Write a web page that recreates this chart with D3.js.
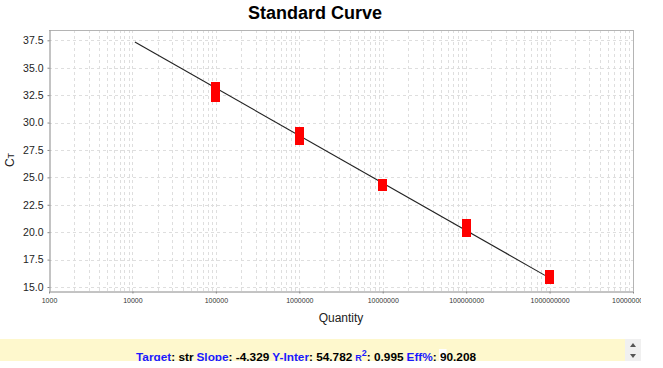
<meta charset="utf-8">
<script src="https://d3js.org/d3.v7.min.js"></script>
<body style="margin:0;background:#fff">
<div id="chart"></div>
<script>

// standard curve data
var quantities = [1e5, 1e6, 1e7, 1e8, 1e9]
var ctHigh = [33.20, 29.10, 24.37, 20.72, 16.08]
var ctLow = [32.32, 28.40, 24.21, 20.02, 15.74]
var xTicks = [1e3, 1e4, 1e5, 1e6, 1e7, 1e8, 1e9, 1e10]
var yTicks = [15, 17.5, 20, 22.5, 25, 27.5, 30, 32.5, 35, 37.5]
var fitRange = [10700, 8.8e8]
var slope = -4.329
var intercept = 54.782
var stats = [
  ["Target", "str"],
  ["Slope", "-4.329"],
  ["Y-Inter", "54.782"],
  ["R2", "0.995"],
  ["Eff%", "90.208"]
]

var width = 663
var height = 368
var pLeft = 49, pRight = 633, pTop = 30, pBottom = 291

var svg = d3.select("#chart")
  .append("svg")
    .attr("width", width)
    .attr("height", height)
    .style("font-family", "'Liberation Sans', Arial, sans-serif")

var defs = svg.append("defs")
defs.append("clipPath").attr("id", "panel")
  .append("rect").attr("x", 0).attr("y", 0).attr("width", 641).attr("height", height)
defs.append("clipPath").attr("id", "band")
  .append("rect").attr("x", 0).attr("y", 339).attr("width", 625).attr("height", 22)

var x = d3.scaleLog().domain([1e3, 1e10]).range([pLeft, pRight])
var y = d3.scaleLinear().domain([14.636, 38.44]).range([pBottom, pTop])

// grid
var grid = svg.append("g")
  .attr("stroke", "#dedede")
  .attr("stroke-dasharray", "3,3")
  .attr("shape-rendering", "crispEdges")

grid.selectAll(".vg")
  .data(x.ticks().filter(function(d){ return d > 1e3 && d < 1e10 }))
  .enter().append("line")
    .attr("x1", function(d){ return Math.round(x(d)) + 0.5 })
    .attr("x2", function(d){ return Math.round(x(d)) + 0.5 })
    .attr("y1", pTop)
    .attr("y2", pBottom)

grid.selectAll(".hg")
  .data(yTicks)
  .enter().append("line")
    .attr("x1", pLeft)
    .attr("x2", pRight)
    .attr("y1", function(d){ return Math.round(y(d)) + 0.5 })
    .attr("y2", function(d){ return Math.round(y(d)) + 0.5 })

// frame
svg.append("path")
  .attr("d", "M" + pLeft + "," + (pTop + 0.5) + "H" + (pRight + 0.5) + "V" + pBottom)
  .attr("fill", "none")
  .attr("stroke", "#b4b4b4")
  .attr("shape-rendering", "crispEdges")

// axes
var xAxis = svg.append("g")
  .attr("clip-path", "url(#panel)")
  .append("g")
  .attr("transform", "translate(0," + (pBottom + 0.5) + ")")
  .call(d3.axisBottom(x).tickValues(xTicks).tickFormat(d3.format("d")).tickSizeInner(2).tickSizeOuter(0).tickPadding(5))
xAxis.select(".domain").attr("stroke", "#888")
xAxis.selectAll(".tick line").attr("stroke", "#888")
xAxis.selectAll("text")
  .attr("font-size", "7px")
  .attr("font-family", "'Liberation Sans', Arial, sans-serif")
  .attr("fill", "#333")

var yAxis = svg.append("g")
  .attr("transform", "translate(" + (pLeft + 0.5) + ",0)")
  .call(d3.axisLeft(y).tickValues(yTicks).tickFormat(d3.format(".1f")).tickSizeInner(2).tickSizeOuter(0).tickPadding(4))
yAxis.select(".domain").attr("stroke", "#888")
yAxis.selectAll(".tick line").attr("stroke", "#888")
yAxis.selectAll("text")
  .attr("font-size", "10.5px")
  .attr("font-family", "'Liberation Sans', Arial, sans-serif")
  .attr("fill", "#222")

// fitted line
var fit = fitRange.map(function(q){ return [q, intercept + slope * Math.log10(q)] })
svg.append("path")
  .datum(fit)
  .attr("fill", "none")
  .attr("stroke", "#222")
  .attr("stroke-width", 1.1)
  .attr("d", d3.line()
    .x(function(d){ return x(d[0]) })
    .y(function(d){ return y(d[1]) }))

// replicate markers
var pts = []
quantities.forEach(function(q, i){
  pts.push([q, ctHigh[i]])
  pts.push([q, ctLow[i]])
})
svg.append("g")
  .attr("shape-rendering", "crispEdges")
  .selectAll("rect")
  .data(pts)
  .enter().append("rect")
    .attr("x", function(d){ return Math.round(x(d[0]) - 4.5) })
    .attr("y", function(d){ return Math.round(y(d[1]) - 5) })
    .attr("width", 9)
    .attr("height", 10)
    .attr("fill", "#ff0000")

// title and labels
svg.append("text")
  .attr("x", 315)
  .attr("y", 19)
  .attr("text-anchor", "middle")
  .attr("font-size", "18px")
  .attr("font-weight", "bold")
  .text("Standard Curve")

svg.append("text")
  .attr("x", 341)
  .attr("y", 322)
  .attr("text-anchor", "middle")
  .attr("font-size", "12px")
  .attr("fill", "#222")
  .text("Quantity")

var ylab = svg.append("text")
  .attr("transform", "translate(14,160) rotate(-90)")
  .attr("text-anchor", "middle")
  .attr("font-size", "12px")
  .attr("fill", "#222")
ylab.append("tspan").text("C")
ylab.append("tspan").attr("font-size", "9px").text("T")

// stats panel
svg.append("rect")
  .attr("x", 0).attr("y", 339)
  .attr("width", 625).attr("height", 22)
  .attr("fill", "#fef8cd")

svg.append("rect")
  .attr("x", 625).attr("y", 339)
  .attr("width", 16).attr("height", 22)
  .attr("fill", "#f0f0f0")
svg.append("path").attr("d", "M630,347L633,343L636,347Z").attr("fill", "#555")
svg.append("path").attr("d", "M630,354L633,358L636,354Z").attr("fill", "#555")

var caret = svg.append("rect")
  .attr("y", 349)
  .attr("width", 8).attr("height", 12)
  .attr("fill", "#fff")

var st = svg.append("text")
  .attr("clip-path", "url(#band)")
  .attr("x", 136)
  .attr("y", 361)
  .attr("font-size", "11.8px")
  .attr("font-weight", "bold")
var lastVal
stats.forEach(function(s, i){
  if (s[0] == "R2") {
    st.append("tspan").attr("fill", "#1a1aff").attr("dx", 3).attr("font-size", "9px").text("R")
    st.append("tspan").attr("fill", "#1a1aff").attr("font-size", "9px").attr("dy", -5).text("2")
    lastVal = st.append("tspan").attr("fill", "#000").attr("dy", 5).text(": " + s[1])
  } else {
    st.append("tspan").attr("fill", "#1a1aff").attr("dx", i ? 3 : 0).text(s[0])
    lastVal = st.append("tspan").attr("fill", "#000").text(": " + s[1])
  }
})

// white box behind the first digit of the last value
var ext = lastVal.node().getExtentOfChar(2)
caret.attr("x", ext.x - 1).attr("width", ext.width + 1)

</script>
</body>
